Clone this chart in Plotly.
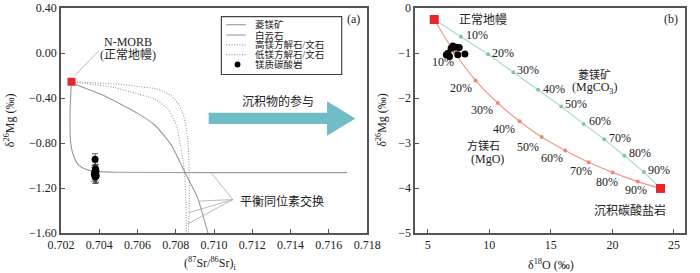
import plotly.graph_objects as go

# ---------------- data: panel (a) ----------------
# mixing curves (87Sr/86Sr)i vs d26Mg
magnesite_sr = [0.70255, 0.70250, 0.70247, 0.70250, 0.70263, 0.70289, 0.70332, 0.70383, 0.70500, 0.71000, 0.71695]
magnesite_mg = [-0.255, -0.40, -0.60, -0.79, -0.90, -0.99, -1.035, -1.052, -1.060, -1.063, -1.063]

dolomite_sr = [0.70255, 0.70272, 0.70426, 0.70605, 0.70691, 0.70776, 0.70836, 0.70862, 0.70913, 0.70968]
dolomite_mg = [-0.255, -0.275, -0.380, -0.541, -0.642, -0.817, -1.021, -1.108, -1.283, -1.600]

highmg_sr = [0.70255, 0.70511, 0.70605, 0.70708, 0.70776, 0.70819, 0.70845, 0.70862, 0.70870, 0.70870, 0.70866]
highmg_mg = [-0.255, -0.279, -0.299, -0.322, -0.380, -0.467, -0.584, -0.759, -1.050, -1.338, -1.600]

lowmg_sr = [0.70255, 0.70477, 0.70605, 0.70691, 0.70759, 0.70802, 0.70827, 0.70845, 0.70853, 0.70856]
lowmg_mg = [-0.255, -0.307, -0.366, -0.410, -0.497, -0.642, -0.846, -1.050, -1.338, -1.600]

nmorb_sr = [0.70255]
nmorb_mg = [-0.255]

sample_sr = [0.70378, 0.70380, 0.70383, 0.70376, 0.70381, 0.70374, 0.70384, 0.70379]
sample_mg = [-0.945, -1.03, -1.05, -1.06, -1.07, -1.08, -1.09, -1.10]
sample_err = [0.05, 0.06, 0.06, 0.06, 0.06, 0.06, 0.06, 0.06]

x_ticks_a = [0.702, 0.704, 0.706, 0.708, 0.710, 0.712, 0.714, 0.716, 0.718]
y_ticks_a = [0.40, 0.00, -0.40, -0.80, -1.20, -1.60]
legend_labels = ["菱镁矿", "白云石", "高镁方解石/文石", "低镁方解石/文石", "镁质碳酸岩"]

# ---------------- data: panel (b) ----------------
mgco3_o = [5.53, 7.70, 9.90, 11.96, 13.97, 15.85, 17.67, 19.34, 20.98, 22.56, 23.91]
mgco3_mg = [-0.255, -0.64, -1.026, -1.426, -1.819, -2.19, -2.576, -2.919, -3.282, -3.646, -4.01]
mgo_o = [5.53, 7.17, 8.89, 10.69, 12.46, 14.25, 16.17, 18.07, 20.02, 22.06, 23.91]
mgo_mg = [-0.255, -0.983, -1.609, -2.111, -2.517, -2.867, -3.166, -3.428, -3.653, -3.858, -4.01]
pct_labels = ["10%", "20%", "30%", "40%", "50%", "60%", "70%", "80%", "90%"]
mgco3_lab_o = [9.02, 11.11, 13.17, 15.24, 17.06, 18.97, 20.63, 22.22, 23.81]
mgco3_lab_mg = [-0.605, -1.004, -1.376, -1.790, -2.140, -2.511, -2.882, -3.231, -3.603]
mgo_lab_o = [6.25, 7.70, 9.42, 11.19, 13.17, 15.06, 17.44, 19.55, 21.90]
mgo_lab_mg = [-1.207, -1.769, -2.271, -2.686, -3.079, -3.341, -3.624, -3.858, -4.039]
end_o = [5.53, 23.91]
end_mg = [-0.255, -4.01]
carb_o = [6.51, 6.77, 6.90, 7.04, 7.30, 7.56, 7.44, 8.02, 6.64]
carb_mg = [-1.041, -1.076, -0.895, -0.845, -0.873, -0.880, -1.041, -1.020, -1.004]
x_ticks_b = [5, 10, 15, 20, 25]
y_ticks_b = [0, -1, -2, -3, -4, -5]

# ---------------- figure ----------------
FONT = "Liberation Serif, Noto Sans CJK SC, serif"
GRAY = "#9a9a9a"
AX = "#555555"
DOT = "1px,1.6px"

def px(x):
    return (x - 61) / 638.0

def py(y):
    return (233 - y) / 229.0

fig = go.Figure()

curve_styles = [
    (magnesite_sr, magnesite_mg, "solid"),
    (dolomite_sr, dolomite_mg, "solid"),
    (highmg_sr, highmg_mg, DOT),
    (lowmg_sr, lowmg_mg, DOT),
]
for xs, ys, dash in curve_styles:
    fig.add_trace(go.Scatter(x=xs, y=ys, mode="lines", line=dict(color=GRAY, width=1.1, dash=dash, shape="spline", smoothing=0.6),
                             xaxis="x", yaxis="y", showlegend=False, hoverinfo="skip"))

fig.add_trace(go.Scatter(x=sample_sr, y=sample_mg, mode="markers",
                         marker=dict(color="black", size=7),
                         error_y=dict(type="data", array=sample_err, color="#333", thickness=0.8, width=3),
                         xaxis="x", yaxis="y", showlegend=False))
fig.add_trace(go.Scatter(x=nmorb_sr, y=nmorb_mg, mode="markers",
                         marker=dict(color="#e8262a", size=8, symbol="square"),
                         xaxis="x", yaxis="y", showlegend=False))

# panel b
fig.add_trace(go.Scatter(x=mgco3_o, y=mgco3_mg, mode="lines", line=dict(color="#a9dccf", width=1.2),
                         xaxis="x2", yaxis="y2", showlegend=False))
fig.add_trace(go.Scatter(x=mgco3_o[1:-1], y=mgco3_mg[1:-1], mode="markers", marker=dict(color="#7cc7b0", size=4),
                         xaxis="x2", yaxis="y2", showlegend=False))
fig.add_trace(go.Scatter(x=mgo_o, y=mgo_mg, mode="lines", line=dict(color="#f3978a", width=1.2, shape="spline", smoothing=0.8),
                         xaxis="x2", yaxis="y2", showlegend=False))
fig.add_trace(go.Scatter(x=mgo_o[1:-1], y=mgo_mg[1:-1], mode="markers", marker=dict(color="#ef8676", size=4),
                         xaxis="x2", yaxis="y2", showlegend=False))
fig.add_trace(go.Scatter(x=end_o, y=end_mg, mode="markers", marker=dict(color="#e8262a", size=9, symbol="square"),
                         xaxis="x2", yaxis="y2", showlegend=False))
fig.add_trace(go.Scatter(x=carb_o, y=carb_mg, mode="markers", marker=dict(color="black", size=7),
                         xaxis="x2", yaxis="y2", showlegend=False))

annotations = []
shapes = []

def note(text, x, y, xref="paper", yref="paper", size=12, xanchor="center", angle=0):
    annotations.append(dict(text=text, x=x, y=y, xref=xref, yref=yref, showarrow=False,
                            font=dict(family=FONT, size=size, color="#222"), xanchor=xanchor, yanchor="middle",
                            textangle=angle))

for t, xo, yo in zip(pct_labels, mgco3_lab_o, mgco3_lab_mg):
    note(t, xo, yo, "x2", "y2")
for t, xo, yo in zip(pct_labels, mgo_lab_o, mgo_lab_mg):
    note(t, xo, yo, "x2", "y2")

note("正常地幔", 9.52, -0.255, "x2", "y2", 12)
note("菱镁矿", 18.55, -1.478, "x2", "y2", 11)
note("(MgCO<sub>3</sub>)", 18.55, -1.769, "x2", "y2", 12)
note("方镁石", 9.55, -3.06, "x2", "y2", 11)
note("(MgO)", 9.82, -3.36, "x2", "y2", 12)
note("沉积碳酸盐岩", 21.45, -4.498, "x2", "y2", 12)
note("(b)", px(685), py(15.7), size=12)
note("(a)", px(360), py(15.7), size=12)
note("N-MORB", px(130), py(38.3), size=12)
note("(正常地幔)", px(130), py(51.7), size=12)
note("沉积物的参与", px(283), py(99), size=12)
note("平衡同位素交换", px(287), py(200.7), size=12)

# axis titles
note("δ<sup>26</sup>Mg (‰)", px(8), py(118), size=12, angle=-90)
note("δ<sup>26</sup>Mg (‰)", px(388), py(118), size=12, angle=-90)
note("(<sup>87</sup>Sr/<sup>86</sup>Sr)<sub>i</sub>", px(213), py(264), size=12)
note("δ<sup>18</sup>O (‰)", px(562), py(265), size=12)

def line(x0, y0, x1, y1, color="#aaa", width=0.8, dash="solid"):
    shapes.append(dict(type="line", xref="paper", yref="paper", x0=px(x0), y0=py(y0), x1=px(x1), y1=py(y1),
                       line=dict(color=color, width=width, dash=dash)))

# leader lines
line(75, 73, 100, 47)
for ex, ey in [(215, 172.2), (201.7, 200.5), (191.7, 212.3), (190, 224)]:
    line(236.7, 199, ex, ey)

# arrow
pts = [(212, 110.5), (333, 110.5), (333, 99), (362, 116.5), (333, 134), (333, 122), (212, 122)]
path = "M " + " L ".join(f"{px(a):.5f},{py(b):.5f}" for a, b in pts) + " Z"
shapes.append(dict(type="path", xref="paper", yref="paper", path=path, fillcolor="#70bdc7", line=dict(width=0)))

# legend box
shapes.append(dict(type="rect", xref="paper", yref="paper", x0=px(225), y0=py(12.7), x1=px(348), y1=py(71.7),
                   line=dict(color="#444", width=1.2), fillcolor="white"))
rows = [21, 31.5, 41.5, 51.5, 61.5]
dashes = ["solid", "solid", DOT, DOT]
for r, d in zip(rows[:4], dashes):
    line(230, r, 250, r, color=GRAY, width=1.1, dash=d)
shapes.append(dict(type="circle", xref="paper", yref="paper", x0=px(238.5), y0=py(58.5), x1=px(244.5), y1=py(64.5),
                   fillcolor="black", line=dict(width=0)))
for r, t in zip(rows, legend_labels):
    note(t, px(257), py(r), size=9.5, xanchor="left")

axis_common = dict(showline=True, mirror=True, linecolor=AX, linewidth=1.5, ticks="inside", ticklen=4,
                   tickcolor=AX, showgrid=False, zeroline=False, ticklabeloverflow="allow",
                   tickfont=dict(family=FONT, size=12, color="#222"))

fig.update_layout(
    width=700, height=273,
    margin=dict(l=61, r=1, t=4, b=40),
    paper_bgcolor="white", plot_bgcolor="white",
    shapes=shapes, annotations=annotations,
    xaxis=dict(domain=[0, px(374)], range=[0.702, 0.718], tickvals=x_ticks_a,
               ticktext=[f"{v:.3f}" for v in x_ticks_a], anchor="y", **axis_common),
    yaxis=dict(domain=[0, 1], range=[-1.6, 0.4], tickvals=y_ticks_a,
               ticktext=[("−" if v < 0 else "") + f"{abs(v):.2f}" for v in y_ticks_a], anchor="x", **axis_common),
    xaxis2=dict(domain=[px(423), 1], range=[3.97, 25.9], tickvals=x_ticks_b, anchor="y2", **axis_common),
    yaxis2=dict(domain=[0, 1], range=[-5, 0], tickvals=y_ticks_b,
                ticktext=[("−" if v < 0 else "") + f"{abs(v)}" for v in y_ticks_b], anchor="x2", **axis_common),
    showlegend=False,
)

fig.write_html("out.html", config={"displayModeBar": False},
               post_script="document.body.style.margin='0px';document.body.style.padding='0px';document.body.style.overflow='hidden';")
